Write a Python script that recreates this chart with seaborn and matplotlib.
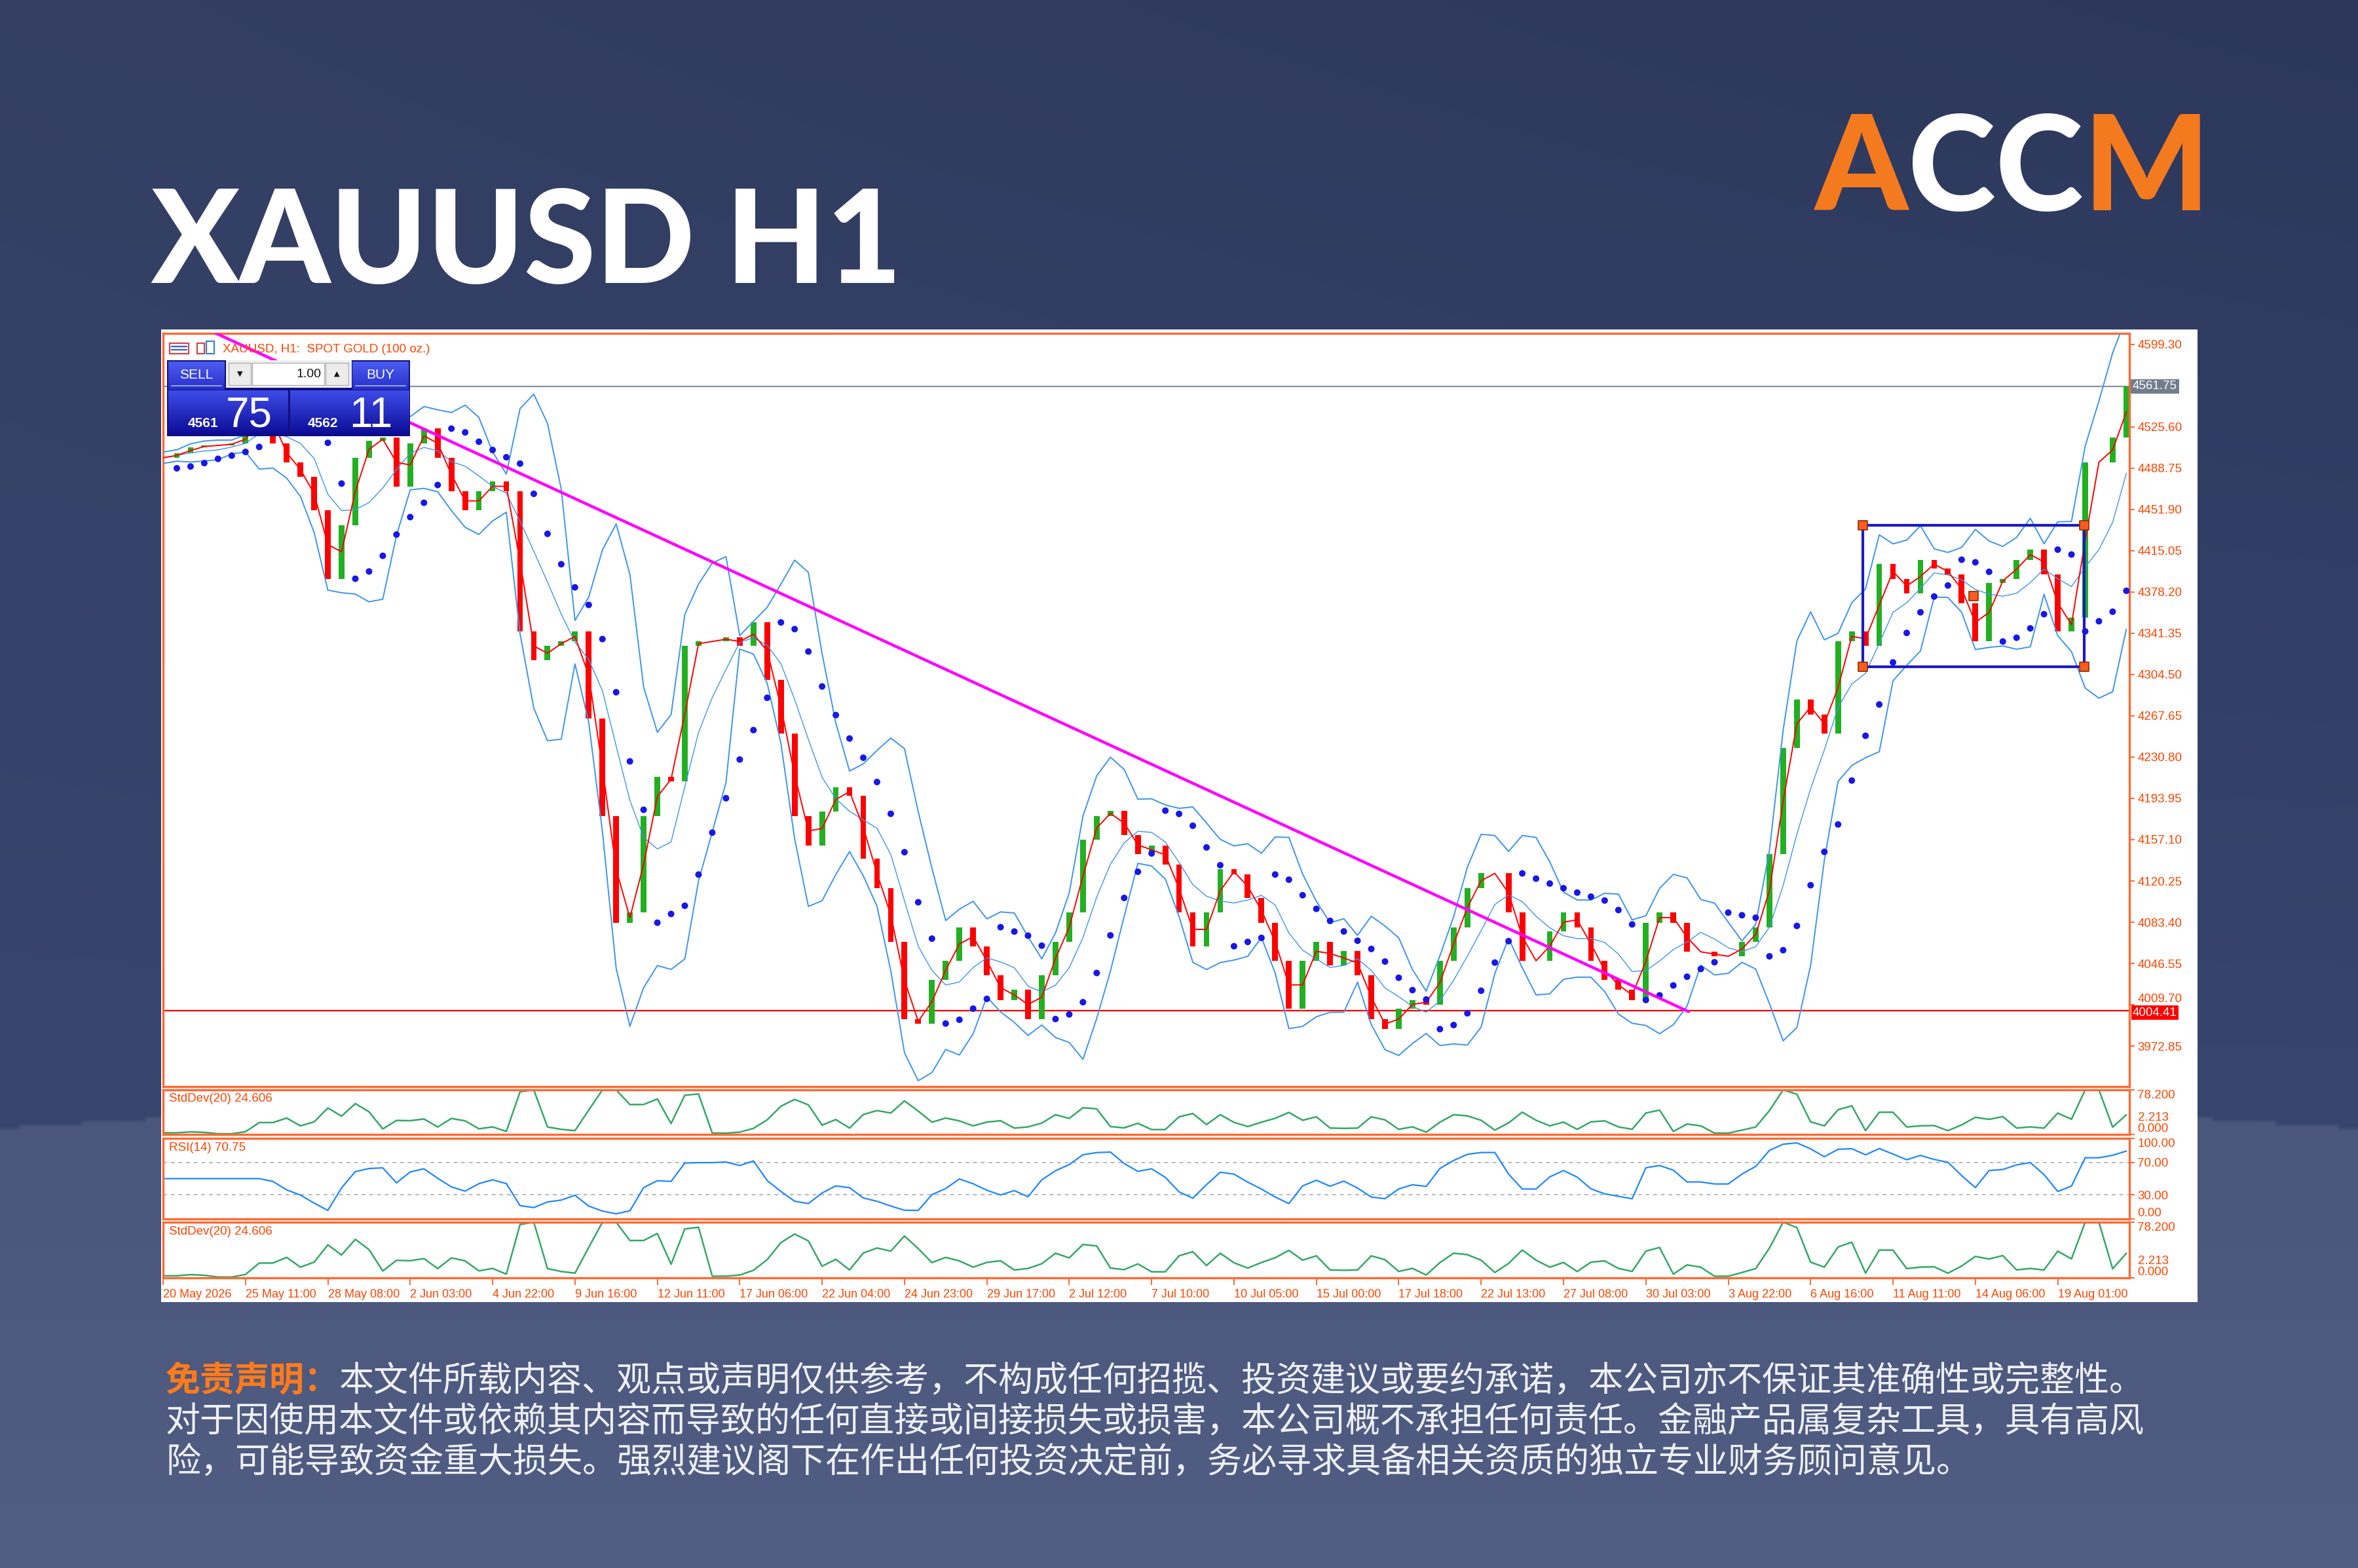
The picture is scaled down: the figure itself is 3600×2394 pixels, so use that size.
import numpy as np
import pandas as pd
import matplotlib
matplotlib.use("Agg")
import matplotlib.pyplot as plt
import matplotlib.colors as mcolors
import matplotlib.transforms as mtransforms
from matplotlib.patches import Rectangle
import seaborn as sns

# ---------------- data ----------------
SAMPLES_PER_TICK = 6          # closes sampled 6 times per time label

x_labels = ["20 May 2026", "25 May 11:00", "28 May 08:00", "2 Jun 03:00", "4 Jun 22:00",
            "9 Jun 16:00", "12 Jun 11:00", "17 Jun 06:00", "22 Jun 04:00", "24 Jun 23:00",
            "29 Jun 17:00", "2 Jul 12:00", "7 Jul 10:00", "10 Jul 05:00", "15 Jul 00:00",
            "17 Jul 18:00", "22 Jul 13:00", "27 Jul 08:00", "30 Jul 03:00", "3 Aug 22:00",
            "6 Aug 16:00", "11 Aug 11:00", "14 Aug 06:00", "19 Aug 01:00"]

close = [4498, 4502, 4507, 4509, 4509, 4511, 4518, 4550, 4511, 4494, 4481, 4451,
         4390, 4438, 4498, 4513, 4516, 4472, 4511, 4524, 4498, 4468, 4451, 4468,
         4477, 4468, 4343, 4317, 4330, 4334, 4343, 4265, 4178, 4083, 4092, 4178,
         4213, 4209, 4330, 4334, 4334, 4338, 4330, 4351, 4300, 4252, 4178, 4152,
         4182, 4204, 4196, 4140, 4114, 4066, 3997, 3993, 4032, 4049, 4079, 4062,
         4036, 4014, 4023, 3997, 4036, 4066, 4092, 4157, 4178, 4183, 4161, 4144,
         4152, 4135, 4092, 4062, 4092, 4131, 4126, 4105, 4083, 4049, 4006, 4049,
         4066, 4045, 4058, 4036, 3997, 3988, 4006, 4014, 4010, 4049, 4079, 4114,
         4127, 4127, 4092, 4049, 4049, 4075, 4092, 4079, 4049, 4032, 4023, 4014,
         4083, 4092, 4083, 4057, 4057, 4053, 4053, 4066, 4079, 4144, 4239, 4282,
         4269, 4252, 4334, 4343, 4330, 4403, 4390, 4377, 4407, 4399, 4394, 4368,
         4334, 4386, 4390, 4407, 4416, 4394, 4343, 4355, 4494, 4494, 4516, 4561.75]

price_ticks = [4599.30, 4525.60, 4488.75, 4451.90, 4415.05, 4378.20, 4341.35,
               4304.50, 4267.65, 4230.80, 4193.95, 4157.10, 4120.25, 4083.40, 4046.55,
               4009.70, 3972.85]
price_range = (3936.7, 4609.0)
last_price = 4561.75
support_price = 4004.41

trend_x = [0.6, 18.52]
trend_y = [4610.5, 4003.6]
box_x = [20.63, 23.325]
box_y = [4311.5, 4437.5]

std_ticks = [78.2, 0.0]
std_tick_labels = ["78.200", "0.000"]
std_last = 2.213
std_range = (0, 78.2)
rsi_ticks = [100, 70, 30, 0]
rsi_tick_labels = ["100.00", "70.00", "30.00", "0.00"]
rsi_levels = [70, 30]

bid_small, bid_big = "4561", "75"
ask_small, ask_big = "4562", "11"
lot_size = "1.00"

title = "XAUUSD H1"
header = "XAUUSD, H1:  SPOT GOLD (100 oz.)"
std_title = "StdDev(20) 24.606"
rsi_title = "RSI(14) 70.75"
disclaimer_head = "免责声明："
disclaimer = ["本文件所载内容、观点或声明仅供参考，不构成任何招揽、投资建议或要约承诺，本公司亦不保证其准确性或完整性。",
              "对于因使用本文件或依赖其内容而导致的任何直接或间接损失或损害，本公司概不承担任何责任。金融产品属复杂工具，具有高风",
              "险，可能导致资金重大损失。强烈建议阁下在作出任何投资决定前，务必寻求具备相关资质的独立专业财务顾问意见。"]

# ---------------- style ----------------
sns.set_theme(style="white")
plt.rcParams["font.family"] = ["Liberation Sans", "DejaVu Sans"]
CJK = ["Noto Sans CJK SC", "DejaVu Sans"]

ORANGE_AX = "#ff6a33"
ORANGE_TXT = "#ff4500"
GREEN = "#22b022"
RED = "#ff0000"
BAND = "#3d95f0"
SAR_BLUE = "#1717e8"
LOGO_ORANGE = "#f47a1f"

W, H = 3600, 2394
fig = plt.figure(figsize=(W / 100, H / 100), dpi=100)


def frac(x0, y0, x1, y1):
    # pixel box (top-left origin) -> figure fraction rect
    return [x0 / W, 1 - y1 / H, (x1 - x0) / W, (y1 - y0) / H]


# ---------------- background ----------------
ax_bg = fig.add_axes([0, 0, 1, 1])
ax_bg.set_zorder(-5)
gy, gx = np.mgrid[0:1:400j, 0:1:600j]
edge = 0.72 - 0.03 * np.sin(np.pi * gx)
c_top0 = np.array(mcolors.to_rgb("#2c375b"))
c_top1 = np.array(mcolors.to_rgb("#38456f"))
c_low0 = np.array(mcolors.to_rgb("#4a567b"))
c_low1 = np.array(mcolors.to_rgb("#515d83"))
t_up = np.clip(gy / 0.72, 0, 1)[..., None]
t_lo = np.clip((gy - 0.72) / 0.28, 0, 1)[..., None]
upper_img = c_top0 + (c_top1 - c_top0) * t_up + 0.03 * (1 - gx[..., None]) * (1 - t_up)
lower_img = c_low0 + (c_low1 - c_low0) * t_lo
bg = np.where((gy > edge)[..., None], lower_img, upper_img)
ax_bg.imshow(np.clip(bg, 0, 1), extent=[0, 1, 0, 1], aspect="auto", interpolation="bilinear")
ax_bg.add_patch(Rectangle((246 / W, 1 - 1988 / H), (3355 - 246) / W, (1988 - 503) / H,
                          facecolor="white", edgecolor="none"))
ax_bg.set_xlim(0, 1)
ax_bg.set_ylim(0, 1)
ax_bg.axis("off")

# ---------------- indicators from the closes ----------------
s = pd.Series(close, dtype=float)
xs = np.arange(len(s)) / SAMPLES_PER_TICK
opens = s.shift(1).fillna(s.iloc[0])
ma = s.rolling(2, min_periods=1).mean()
mid = s.rolling(5, min_periods=1).mean()
dev = s.rolling(5, min_periods=2).std().bfill()
upper = mid + 1.8 * dev
lower = mid - 1.8 * dev
std20 = s.rolling(3, min_periods=2).std().bfill()
delta = s.diff().fillna(0)
gain = delta.clip(lower=0).ewm(alpha=0.2, adjust=False).mean()
loss = (-delta).clip(lower=0).ewm(alpha=0.2, adjust=False).mean()
rsi = (100 - 100 / (1 + gain / loss.replace(0, np.nan))).fillna(50)


def parabolic_sar(values, step=0.06, max_step=0.3):
    out = []
    up, sar, ep, af = True, values[0] - 10, values[0], step
    for i, v in enumerate(values):
        if i > 0:
            sar = sar + af * (ep - sar)
            if up and v < sar:
                up, sar, ep, af = False, ep, v, step
            elif (not up) and v > sar:
                up, sar, ep, af = True, ep, v, step
            elif up and v > ep:
                ep, af = v, min(af + step, max_step)
            elif (not up) and v < ep:
                ep, af = v, min(af + step, max_step)
        out.append(sar)
    return np.array(out)


sar = parabolic_sar(list(s))

# ---------------- main price panel ----------------
ax = fig.add_axes(frac(249, 509, 3251, 1659))
ax.set_facecolor("white")
ax.axhline(last_price, color="#8796a5", lw=1.6, zorder=1)
ax.axhline(support_price, color=RED, lw=1.6, zorder=1)
ax.bar(xs, s - opens, bottom=opens, width=0.07,
       color=np.where(s >= opens, GREEN, RED), linewidth=0, zorder=2)
sns.lineplot(x=xs, y=upper.values, ax=ax, color=BAND, lw=1.4, zorder=3)
sns.lineplot(x=xs, y=lower.values, ax=ax, color=BAND, lw=1.4, zorder=3)
sns.lineplot(x=xs, y=mid.values, ax=ax, color=BAND, lw=1.0, zorder=3)
sns.lineplot(x=xs, y=ma.values, ax=ax, color=RED, lw=1.4, zorder=3)
sns.scatterplot(x=xs[1:], y=sar[1:], ax=ax, color=SAR_BLUE, s=52, edgecolor="none", zorder=4)
ax.plot(trend_x, trend_y, color="#ff00ff", lw=3.2, zorder=5)
ax.plot([box_x[0], box_x[1], box_x[1], box_x[0], box_x[0]],
        [box_y[0], box_y[0], box_y[1], box_y[1], box_y[0]], color="#1a1ac8", lw=3, zorder=5)
ax.scatter([box_x[0], box_x[1], box_x[0], box_x[1], sum(box_x) / 2],
           [box_y[0], box_y[0], box_y[1], box_y[1], sum(box_y) / 2],
           marker="s", s=110, color="#ff5a1f", edgecolor="#8a3000", linewidth=1.2, zorder=6)
ax.set_xlim(0, 23.87)
ax.set_ylim(*price_range)
ax.set_xlabel("")
ax.set_ylabel("")
ax.set_xticks([])
ax.yaxis.tick_right()
ax.set_yticks(price_ticks)
ptexts = ax.set_yticklabels([f"{v:.2f}" for v in price_ticks])
ax.tick_params(axis="y", right=True, direction="out", length=6, width=1.4,
               colors=ORANGE_AX, labelcolor=ORANGE_TXT, labelsize=13.5, pad=3)
# the tick just above the support label peeks out over it, as in the terminal
for t, v in zip(ptexts, price_ticks):
    if 0 < v - support_price < 10:
        t.set_va("bottom")

ytrans = mtransforms.blended_transform_factory(ax.transAxes, ax.transData)
ax.annotate(f"{last_price:.2f}", xy=(1, last_price), xycoords=ytrans, xytext=(5, 0),
            textcoords="offset pixels", va="center", ha="left", color="white", fontsize=13.5,
            bbox=dict(boxstyle="square,pad=0.15", fc="#717d8c", ec="none"), zorder=10)
ax.annotate(f"{support_price:.2f}", xy=(1, support_price), xycoords=ytrans, xytext=(5, -3),
            textcoords="offset pixels", va="center", ha="left", color="white", fontsize=13.5,
            bbox=dict(boxstyle="square,pad=0.12", fc=RED, ec="none"), zorder=10)


def style_panel(a):
    for sp in a.spines.values():
        sp.set_color(ORANGE_AX)
        sp.set_linewidth(2.4)
        sp.set_visible(True)


style_panel(ax)


# ---------------- sub panels ----------------
def side_ticks(a, ticks, labels):
    a.yaxis.tick_right()
    a.set_yticks(ticks)
    texts = a.set_yticklabels(labels)
    a.tick_params(axis="y", right=True, direction="out", length=6, width=1.4,
                  colors=ORANGE_AX, labelcolor=ORANGE_TXT, labelsize=13.5, pad=3)
    lo, hi = a.get_ylim()
    for t, v in zip(texts, ticks):
        if v >= hi - 1e-9:
            t.set_va("top")
        elif v <= lo + 1e-9:
            t.set_va("bottom")


def std_panel(box):
    a = fig.add_axes(frac(*box))
    a.set_facecolor("white")
    sns.lineplot(x=xs, y=std20.clip(upper=std_range[1]).values, ax=a, color="#35a866", lw=1.8)
    a.set_xlim(0, 23.87)
    a.set_ylim(*std_range)
    a.set_xlabel("")
    a.set_ylabel("")
    side_ticks(a, std_ticks, std_tick_labels)
    # the current-value label sits just above the zero label
    tr = mtransforms.blended_transform_factory(a.transAxes, a.transData)
    a.annotate(f"{std_last:.3f}", xy=(1, std_last), xycoords=tr, xytext=(13, 15),
               textcoords="offset pixels", va="bottom", ha="left", color=ORANGE_TXT,
               fontsize=13.5, annotation_clip=False)
    a.text(0.003, 0.93, std_title, transform=a.transAxes, va="top", ha="left",
           color=ORANGE_TXT, fontsize=13.5)
    style_panel(a)
    return a


ax_sd1 = std_panel((249, 1664, 3251, 1732))
ax_sd1.set_xticks([])

ax_rsi = fig.add_axes(frac(249, 1738, 3251, 1861))
ax_rsi.set_facecolor("white")
for lv in rsi_levels:
    ax_rsi.axhline(lv, color="#b8b8b8", lw=1.4, ls=(0, (3, 3)), zorder=1)
sns.lineplot(x=xs, y=rsi.values, ax=ax_rsi, color="#1e88ff", lw=1.6, zorder=2)
ax_rsi.set_xlim(0, 23.87)
ax_rsi.set_ylim(0, 100)
ax_rsi.set_xlabel("")
ax_rsi.set_ylabel("")
ax_rsi.set_xticks([])
side_ticks(ax_rsi, rsi_ticks, rsi_tick_labels)
ax_rsi.text(0.003, 0.95, rsi_title, transform=ax_rsi.transAxes, va="top", ha="left",
            color=ORANGE_TXT, fontsize=13.5)
style_panel(ax_rsi)

ax_sd2 = std_panel((249, 1866, 3251, 1951))
ax_sd2.set_xticks(range(len(x_labels)))
ax_sd2.set_xticklabels(x_labels, ha="left")
ax_sd2.tick_params(axis="x", bottom=True, direction="out", length=8, width=1.4,
                   colors=ORANGE_AX, labelcolor=ORANGE_TXT, labelsize=13, pad=4)

# ---------------- trade widget overlay ----------------
ax_w = fig.add_axes(frac(250, 512, 670, 672))
ax_w.set_zorder(6)
ax_w.patch.set_alpha(0)


def grad_box(a, x0, x1, y0, y1, top, bottom):
    g = np.linspace(0, 1, 64)[:, None, None]
    c0 = np.array(mcolors.to_rgb(top))
    c1 = np.array(mcolors.to_rgb(bottom))
    img = np.repeat(c0 + (c1 - c0) * g, 2, axis=1)
    a.imshow(img, extent=[x0, x1, y1, y0], aspect="auto", interpolation="bilinear", zorder=2)


ax_w.add_patch(Rectangle((255, 550), 371, 116, fc="#10107a", ec="none", zorder=1))
grad_box(ax_w, 257, 343, 552, 595, "#4c5cf2", "#2630c8")
grad_box(ax_w, 538, 624, 552, 595, "#4c5cf2", "#2630c8")
grad_box(ax_w, 257, 440, 596, 664, "#3e4ce8", "#0c0c96")
grad_box(ax_w, 443, 624, 596, 664, "#3e4ce8", "#0c0c96")
ax_w.plot([262, 338], [589, 589], color="#9aa6ff", lw=1.4, zorder=3)
ax_w.plot([543, 619], [589, 589], color="#9aa6ff", lw=1.4, zorder=3)
ax_w.add_patch(Rectangle((345, 550), 192, 42, fc="#f0f0f0", ec="none", zorder=2))
ax_w.add_patch(Rectangle((349, 554), 34, 34, fc="#ececec", ec="#b0b0b0", lw=1, zorder=3))
ax_w.add_patch(Rectangle((385, 554), 110, 34, fc="white", ec="#b0b0b0", lw=1, zorder=3))
ax_w.add_patch(Rectangle((497, 554), 35, 34, fc="#ececec", ec="#b0b0b0", lw=1, zorder=3))
ax_w.text(300, 572, "SELL", color="white", fontsize=15, ha="center", va="center", zorder=4)
ax_w.text(581, 572, "BUY", color="white", fontsize=15, ha="center", va="center", zorder=4)
ax_w.text(366, 571, "▼", color="#111111", fontsize=8, ha="center", va="center", zorder=4,
          family=["DejaVu Sans"])
ax_w.text(514, 571, "▲", color="#111111", fontsize=8, ha="center", va="center", zorder=4,
          family=["DejaVu Sans"])
ax_w.text(491, 572, lot_size, color="#111111", fontsize=14, ha="right", va="center", zorder=4)
ax_w.text(287, 652, bid_small, color="white", fontsize=15, fontweight="bold", va="baseline", zorder=4)
ax_w.text(345, 652, bid_big, color="white", fontsize=46, va="baseline", zorder=4)
ax_w.text(470, 652, ask_small, color="white", fontsize=15, fontweight="bold", va="baseline", zorder=4)
ax_w.text(533, 652, ask_big, color="white", fontsize=46, va="baseline", zorder=4)
# chart header icons + caption
ax_w.add_patch(Rectangle((259, 524), 29, 16, fc="white", ec="#d04848", lw=1.6, zorder=3))
for yy in (529, 534):
    ax_w.plot([262, 285], [yy, yy], color="#3b5bd8", lw=1.6, zorder=4)
ax_w.add_patch(Rectangle((301, 524), 11, 16, fc="white", ec="#d04848", lw=1.6, zorder=3))
ax_w.add_patch(Rectangle((315, 521), 12, 19, fc="white", ec="#3b82d8", lw=1.6, zorder=3))
ax_w.text(340, 533, header, color=ORANGE_TXT, fontsize=13.5, va="center", ha="left", zorder=4)
ax_w.set_xlim(250, 670)
ax_w.set_ylim(672, 512)
ax_w.axis("off")

# ---------------- titles, logo, disclaimer ----------------
renderer = fig.canvas.get_renderer()


def text_run(x, y, pieces, **kw):
    for txt, color, weight in pieces:
        t = fig.text(x, y, txt, color=color, fontweight=weight, **kw)
        x += t.get_window_extent(renderer).width / fig.bbox.width


fig.text(230 / W, 1 - 432 / H, title, color="white", fontsize=143, fontweight="black",
         family=["Lato", "DejaVu Sans"], va="baseline", ha="left")
text_run(2771 / W, 1 - 321 / H,
         [("A", LOGO_ORANGE, "black"), ("CC", "white", "black"), ("M", LOGO_ORANGE, "black")],
         fontsize=146, family=["Lato", "DejaVu Sans"], va="baseline")

text_run(253 / W, 1 - 2108 / H,
         [(disclaimer_head, "#ff7b1c", "bold"), (disclaimer[0], "#eef0f6", "normal")],
         fontsize=38.2, family=CJK, va="center")
for i, line in enumerate(disclaimer[1:], start=1):
    fig.text(253 / W, 1 - (2108 + 62 * i) / H, line, color="#eef0f6", fontsize=38.2,
             family=CJK, va="center", ha="left")

fig.savefig("out.png", dpi=100)
